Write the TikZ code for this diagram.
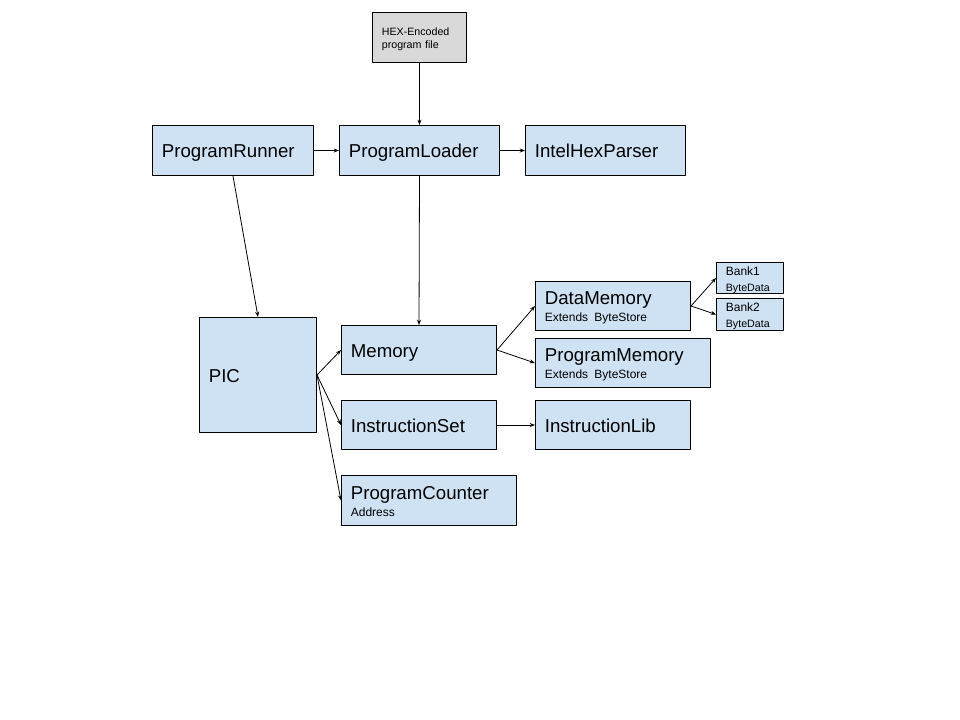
\documentclass[tikz,border=0pt]{standalone}
\usepackage{fontspec}
\setmainfont{Liberation Sans}
\usetikzlibrary{arrows.meta}
\definecolor{boxblue}{HTML}{CFE2F3}
\definecolor{boxgray}{HTML}{D9D9D9}
\newcommand{\bigtxt}{\fontsize{14}{17}\selectfont}
\newcommand{\subtxt}{\fontsize{9}{11}\selectfont}
\newcommand{\smalltxt}{\fontsize{8}{10}\selectfont}
\newcommand{\tinytxt}{\fontsize{8}{9}\selectfont}
\begin{document}
\begin{tikzpicture}[x=0.75pt,y=-0.75pt,line cap=round,line join=round,
  >={Stealth[length=4pt,width=3pt]},
  blk/.style={draw,line width=0.75pt,fill=boxblue,anchor=north west,
    align=left,inner xsep=7pt,inner ysep=0pt,font=\bigtxt},
  one/.style={text height=10.5pt,text depth=0pt},
  link/.style={->,line width=0.6pt}]
  \useasboundingbox[fill=white] (0,0) rectangle (960,720);

  % top row
  \node[blk,fill=boxgray,font=\smalltxt,text width=56.5pt,minimum height=37.5pt,
    text depth=8.7pt] (hex) at (372,12) {HEX-Encoded\\program file};
  \node[blk,one,text width=106.75pt,minimum height=37.5pt] (runner) at (152,125) {ProgramRunner};
  \node[blk,one,text width=106pt,minimum height=37.5pt] (loader) at (339,125) {ProgramLoader};
  \node[blk,one,text width=106pt,minimum height=37.5pt] (parser) at (525,125) {IntelHexParser};

  % core
  \node[blk,one,text width=73.75pt,minimum height=86.25pt] (pic) at (199,317) {PIC};
  \node[blk,one,text width=102.25pt,minimum height=36.75pt] (memory) at (341,325) {Memory};
  \node[blk,one,text width=102.25pt,minimum height=36.75pt] (iset) at (341,400) {InstructionSet};
  \node[blk,text width=117.25pt,minimum height=37.5pt,text depth=11pt] (pcount) at (341,475)
    {ProgramCounter\\[-4.5pt]{\subtxt Address}};

  % memory parts
  \node[blk,text width=102.25pt,minimum height=36.75pt,text depth=11.4pt] (datamem) at (535,281)
    {DataMemory\\[-4.5pt]{\subtxt Extends ByteStore}};
  \node[blk,text width=117.25pt,minimum height=36.75pt,text depth=11.4pt] (progmem) at (535,338)
    {ProgramMemory\\[-4.5pt]{\subtxt Extends ByteStore}};
  \node[blk,one,text width=102.25pt,minimum height=36.75pt] (ilib) at (535,400) {InstructionLib};
  \node[blk,font=\subtxt,text width=36.25pt,minimum height=23.25pt,text depth=10.7pt]
    (bank1) at (716,262) {Bank1\\[1pt]{\tinytxt ByteData}};
  \node[blk,font=\subtxt,text width=36.25pt,minimum height=24pt,text depth=10.7pt]
    (bank2) at (716,298) {Bank2\\[1pt]{\tinytxt ByteData}};

  % connectors
  \draw[link] (hex.south) -- (loader.north);
  \draw[link] (runner) -- (loader);
  \draw[link] (loader) -- (parser);
  \draw[link] (runner.south) -- (pic.north);
  \draw[link] (loader.south) -- (memory.north);
  \foreach \t in {memory,iset,pcount}
    \draw[link] (pic.east) -- (\t.west);
  \foreach \t in {datamem,progmem}
    \draw[link] (memory.east) -- (\t.west);
  \foreach \t in {bank1,bank2}
    \draw[link] (datamem.east) -- (\t.west);
  \draw[link] (iset) -- (ilib);
\end{tikzpicture}
\end{document}
